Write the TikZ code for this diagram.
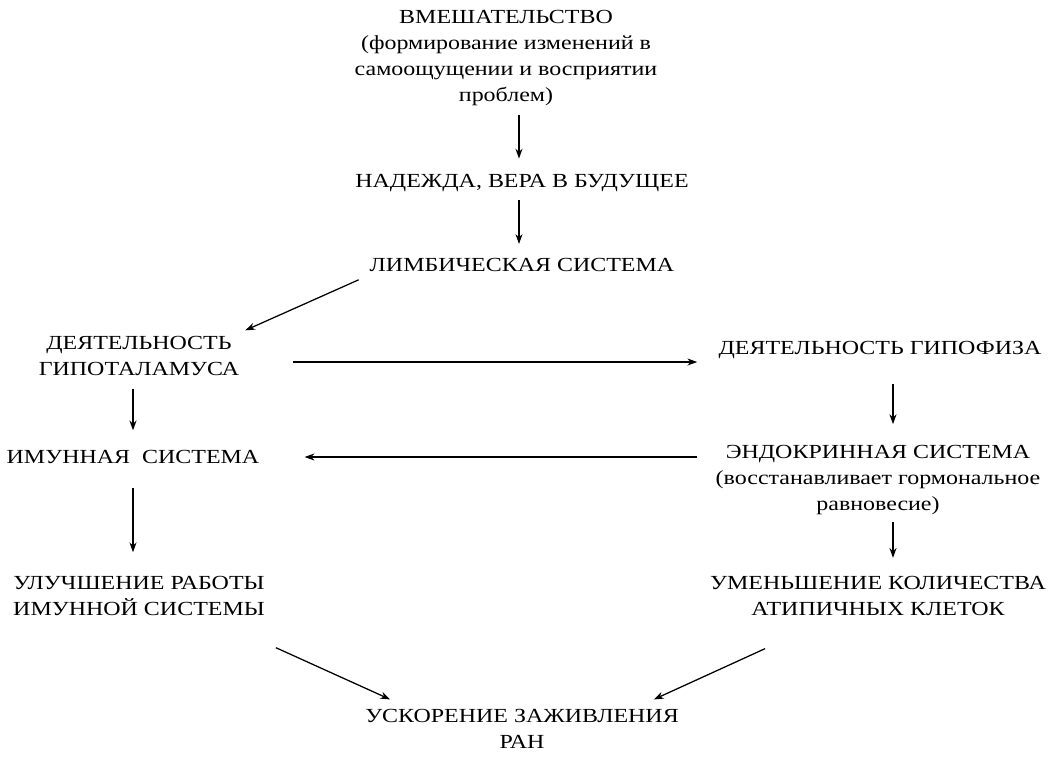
\documentclass[tikz,border=0pt]{standalone}
\usepackage{fontspec}
\setmainfont{Liberation Serif}[FakeStretch=1.2]
\usetikzlibrary{arrows.meta}
\tikzset{
  txt/.style={align=center, inner sep=2pt, font=\fontsize{14.2}{18.3}\selectfont},
  arr/.style={-{Stealth[length=7pt,width=5pt]}, line width=0.9pt}
}
\begin{document}
\begin{tikzpicture}[x=0.025cm,y=-0.025cm]
  \useasboundingbox (0,0) rectangle (1048,759);
  % блоки
  \node[txt] (top) at (506,58) {ВМЕШАТЕЛЬСТВО\\(формирование изменений в\\самоощущении и восприятии\\проблем)};
  \node[txt] (nad) at (522,183) {НАДЕЖДА, ВЕРА В БУДУЩЕЕ};
  \node[txt] (limb) at (522,265) {ЛИМБИЧЕСКАЯ СИСТЕМА};
  \node[txt] (hyp) at (139,356) {ДЕЯТЕЛЬНОСТЬ\\ГИПОТАЛАМУСА};
  \node[txt] (pit) at (880,350) {ДЕЯТЕЛЬНОСТЬ ГИПОФИЗА};
  \node[txt] (imm) at (133,457) {ИМУННАЯ\ \ СИСТЕМА};
  \node[txt] (endo) at (878,480) {ЭНДОКРИННАЯ СИСТЕМА\\(восстанавливает гормональное\\равновесие)};
  \node[txt] (impr) at (139,596) {УЛУЧШЕНИЕ РАБОТЫ\\ИМУННОЙ СИСТЕМЫ};
  \node[txt] (red) at (878,596) {УМЕНЬШЕНИЕ КОЛИЧЕСТВА\\АТИПИЧНЫХ КЛЕТОК};
  \node[txt] (heal) at (522,729) {УСКОРЕНИЕ ЗАЖИВЛЕНИЯ\\РАН};
  % стрелки
  \draw[arr, shorten <=5pt, shorten >=9pt] ([shift={(13,0)}]top.south) -- ([shift={(-3,0)}]nad.north);
  \draw[arr, shorten <=4pt, shorten >=8pt] ([shift={(-3,0)}]nad.south) -- ([shift={(-3,0)}]limb.north);
  \draw[arr] ([shift={(-8,5)}]limb.south west) -- ([shift={(3,-3)}]hyp.north east);
  \draw[arr, shorten <=36pt, shorten >=13pt] ([shift={(0,6)}]hyp.east) -- ([shift={(0,12)}]pit.west);
  \draw[arr, shorten <=16pt, shorten >=13pt] ([shift={(13,0)}]pit.south) -- ([shift={(15,0)}]endo.north);
  \draw[arr, shorten <=7pt, shorten >=12pt] ([shift={(-6,0)}]hyp.south) -- (imm.north);
  \draw[arr, shorten <=11pt, shorten >=30pt] (endo.west |- imm) -- (imm);
  \draw[arr, shorten <=15pt, shorten >=15pt] (imm.south) -- ([shift={(-6,0)}]impr.north);
  \draw[arr, shorten <=3pt, shorten >=11pt] ([shift={(15,0)}]endo.south) -- ([shift={(15,0)}]red.north);
  \draw[arr] ([shift={(8,29)}]impr.south east) -- ([shift={(28,-7)}]heal.north west);
  \draw[arr] ([shift={(-113,30)}]red.south) -- ([shift={(-28,-7)}]heal.north east);
\end{tikzpicture}
\end{document}
